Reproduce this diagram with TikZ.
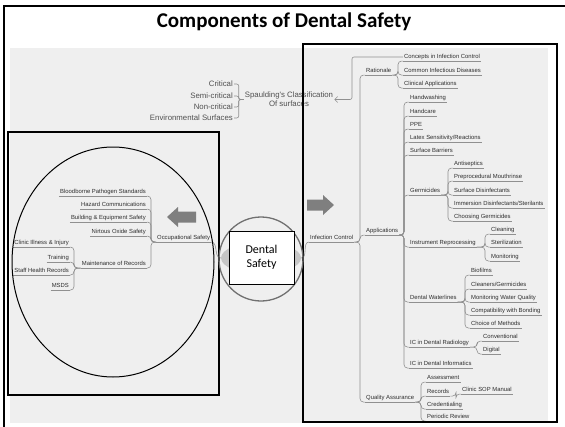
\documentclass[tikz,border=0pt]{standalone}
\usepackage{fontspec}
\setmainfont{Carlito}
\newfontfamily\mmfont{Liberation Sans}
\usetikzlibrary{arrows.meta,shapes.geometric}
\definecolor{bg}{HTML}{EFEFEF}
\definecolor{mmtext}{HTML}{2E2E2E}
\definecolor{spltext}{HTML}{505050}
\definecolor{mmline}{HTML}{909090}
\definecolor{arrowgrey}{HTML}{7F7F7F}
\definecolor{ringgrey}{HTML}{707070}
\definecolor{cengrey}{HTML}{C6C6C6}
\begin{document}
\begin{tikzpicture}[x=1pt,y=-1pt,
  mm/.style={font=\mmfont\fontsize{5.9}{7}\selectfont, text=mmtext, inner xsep=1pt, inner ysep=1pt, text height=4.4pt, text depth=1.3pt, anchor=west},
  mml/.style={mm, anchor=east},
  spl/.style={font=\mmfont\fontsize{7.8}{9}\selectfont, text=spltext, inner sep=1pt, anchor=east},
  uline/.style={draw=mmline, line width=0.6pt},
  conn/.style={draw=mmline, line width=0.6pt, rounded corners=3.5pt},
  rel/.style={draw=mmline, line width=0.6pt, rounded corners=2pt, -{Straight Barb[length=3pt,width=6pt]}},
  frame/.style={draw=black, line width=1.2pt}]
\useasboundingbox (0,0) rectangle (565,426);
\fill[white] (0,0) rectangle (565,426);
\fill[bg] (10,48) rectangle (548,423);

% ---------- right map ----------
\node[mm] (ic) at (309,238) {Infection Control};
\node[mm] (rat) at (365,71) {Rationale};
\node[mm] (cic) at (403,57) {Concepts in Infection Control};
\node[mm] (cid) at (403,71) {Common Infectious Diseases};
\node[mm] (cla) at (403,84) {Clinical Applications};
\node[mm] (app) at (365,231) {Applications};
\node[mm] (hw) at (409,98) {Handwashing};
\node[mm] (hc) at (409,112) {Handcare};
\node[mm] (ppe) at (409,125) {PPE};
\node[mm] (lat) at (409,138) {Latex Sensitivity/Reactions};
\node[mm] (sb) at (409,151) {Surface Barriers};
\node[mm] (ger) at (409,191) {Germicides};
\node[mm] (ant) at (453,164) {Antiseptics};
\node[mm] (pre) at (453,177) {Preprocedural Mouthrinse};
\node[mm] (sdi) at (453,191) {Surface Disinfectants};
\node[mm] (imm) at (453,204) {Immersion Disinfectants/Sterilants};
\node[mm] (cho) at (453,217) {Choosing Germicides};
\node[mm] (ir) at (409,243) {Instrument Reprocessing};
\node[mm] (cle) at (490,230) {Cleaning};
\node[mm] (ste) at (490,243) {Sterilization};
\node[mm] (mon) at (490,257) {Monitoring};
\node[mm] (dw) at (409,298) {Dental Waterlines};
\node[mm] (bio) at (470,271) {Biofilms};
\node[mm] (cg) at (470,285) {Cleaners/Germicides};
\node[mm] (mwq) at (470,298) {Monitoring Water Quality};
\node[mm] (cwb) at (470,311) {Compatibility with Bonding};
\node[mm] (com) at (470,324) {Choice of Methods};
\node[mm] (rad) at (409,343) {IC in Dental Radiology};
\node[mm] (con) at (482,337) {Conventional};
\node[mm] (dig) at (482,350) {Digital};
\node[mm] (inf) at (409,364) {IC in Dental Informatics};
\node[mm] (qa) at (365,398) {Quality Assurance};
\node[mm] (ass) at (426,378) {Assessment};
\node[mm] (rec) at (426,392) {Records};
\node[mm] (sop) at (461,390) {Clinic SOP Manual};
\node[mm] (cre) at (426,405) {Credentialing};
\node[mm] (per) at (426,417) {Periodic Review};

% ---------- left map ----------
\node[mm] (occ) at (156,238) {Occupational Safety};
\node[mml] (bps) at (147,192) {Bloodborne Pathogen Standards};
\node[mml] (hzc) at (147,205) {Hazard Communications};
\node[mml] (bes) at (147,218) {Building \& Equipment Safety};
\node[mml] (nos) at (147,232) {Nirtous Oxide Safety};
\node[mml] (mor) at (147,264) {Maintenance of Records};
\node[mml] (cii) at (70,243) {Clinic Illness \& Injury};
\node[mml] (trn) at (70,258) {Training};
\node[mml] (shr) at (70,271) {Staff Health Records};
\node[mml] (msd) at (70,286) {MSDS};

% underlines
\foreach \n in {ic,rat,cic,cid,cla,app,hw,hc,ppe,lat,sb,ger,ant,pre,sdi,imm,cho,ir,cle,ste,mon,dw,bio,cg,mwq,cwb,com,rad,con,dig,inf,qa,ass,rec,sop,cre,per,occ,bps,hzc,bes,nos,mor,cii,trn,shr,msd}
  \draw[uline] (\n.south west) -- (\n.south east);

% connectors, right side
\foreach \c in {rat,app,qa} \draw[conn] (\c.south west) -- ++(-5,0) |- (ic.south east);
\foreach \c in {cic,cid,cla} \draw[conn] (\c.south west) -- ++(-5,0) |- (rat.south east);
\foreach \c in {hw,hc,ppe,lat,sb,ger,ir,dw,rad,inf} \draw[conn] (\c.south west) -- ++(-5,0) |- (app.south east);
\foreach \c in {ant,pre,sdi,imm,cho} \draw[conn] (\c.south west) -- ++(-5,0) |- (ger.south east);
\foreach \c in {cle,ste,mon} \draw[conn] (\c.south west) -- ++(-5,0) |- (ir.south east);
\foreach \c in {bio,cg,mwq,cwb,com} \draw[conn] (\c.south west) -- ++(-5,0) |- (dw.south east);
\foreach \c in {con,dig} \draw[conn] (\c.south west) -- ++(-5,0) |- (rad.south east);
\foreach \c in {ass,rec,cre,per} \draw[conn] (\c.south west) -- ++(-5,0) |- (qa.south east);
\draw[conn] (sop.south west) -- ++(-5,0) |- (rec.south east);

% connectors, left side
\foreach \c in {bps,hzc,bes,nos,mor} \draw[conn] (\c.south east) -- ++(4,0) |- (occ.south west);
\foreach \c in {cii,trn,shr,msd} \draw[conn] (\c.south east) -- ++(4,0) |- (mor.south west);

% ---------- Spaulding ----------
\node[spl, anchor=center, align=center] (spa) at (289,99.5) {Spaulding's Classification\\Of surfaces};
\node[spl] (crit) at (234,84) {Critical};
\node[spl] (semi) at (234,96) {Semi-critical};
\node[spl] (nonc) at (234,107) {Non-critical};
\node[spl] (envs) at (234,118) {Environmental Surfaces};
\foreach \c in {crit,semi,nonc,envs} \draw[conn,rounded corners=2pt] (spa.west) -- ++(-5,0) |- (\c.east);
\draw[rel] (cic.west) -- ++(-51,0) |- (spa.east);

% ---------- centre ----------
\node[ellipse, fill=cengrey, inner sep=0pt, minimum width=80, minimum height=32] (cen) at (261,258) {};
\draw[uline] (cen.west) to[out=180,in=0] (occ.south east);
\draw[uline] (cen.east) to[out=0,in=180] (ic.south west);

% ---------- overlays ----------
\node[ellipse, draw=black, line width=1pt, inner sep=0pt, minimum width=202, minimum height=230] (bigell) at (113,262) {};
\draw[frame] (8,132) rectangle (219,395);
\draw[frame] (303,44) rectangle (557,422);
\node[circle, draw=ringgrey, line width=1.3pt, inner sep=0pt, minimum size=84] (ring) at (261,259) {};
\fill[arrowgrey] (167,217) -- (178,207) -- (178,211.5) -- (196,211.5) -- (196,222.5) -- (178,222.5) -- (178,227) -- cycle;
\fill[arrowgrey] (334,205) -- (323,195) -- (323,199.5) -- (307,199.5) -- (307,210.5) -- (323,210.5) -- (323,215) -- cycle;
\node[draw=black, line width=1pt, fill=white, minimum width=65, minimum height=53, align=center, inner sep=1pt, font=\fontsize{12}{14}\selectfont] (ds) at (261.5,257.5) {Dental\\Safety};
\node[font=\bfseries\fontsize{21}{25}\selectfont, inner sep=0pt] (title) at (284,22) {Components of Dental Safety};
\draw[black, line width=1.5pt] (4,440) -- (4,6) -- (580,6);
\end{tikzpicture}
\end{document}
